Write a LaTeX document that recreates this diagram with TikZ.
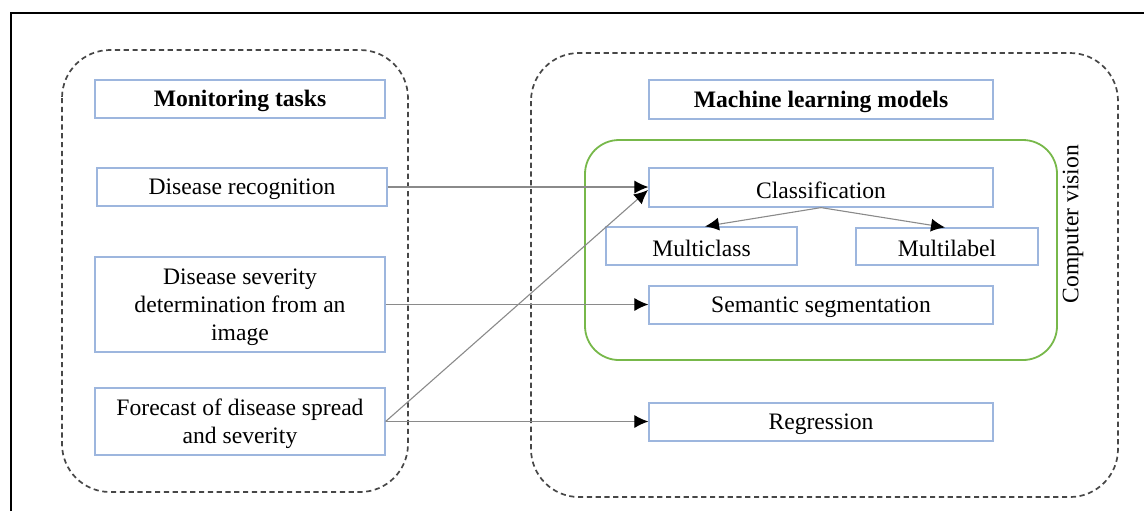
\documentclass[tikz,border=0pt]{standalone}
\usepackage{fontspec}
\setmainfont{Liberation Serif}
\usetikzlibrary{arrows.meta}
\definecolor{boxblue}{HTML}{9DB6DE}
\definecolor{cvgreen}{HTML}{77B84A}
\definecolor{linkgray}{HTML}{8A8A8A}
\begin{document}
\begin{tikzpicture}[x=0.5pt,y=-0.5pt,
  txt/.style={font=\fontsize{11.8}{14}\selectfont, align=center, yshift=-1.2pt},
  tbox/.style={draw=boxblue, line width=0.6pt, inner sep=0pt},
  group/.style={draw=black!72, dash pattern=on 2.6pt off 1.8pt, line width=0.85pt, rounded corners=24pt},
  link/.style={draw=linkgray, line width=0.55pt, -{Latex[length=7pt,width=6.5pt,black]}}
]
\useasboundingbox (0,0) rectangle (1144,511);
% frame
\draw[line width=1.1pt] (11,511) -- (11,13) -- (1144,13);

% groups
\draw[group] (62,50) rectangle (408,492);
\draw[group] (531,53) rectangle (1118,497);
\draw[cvgreen, line width=0.9pt, rounded corners=17pt] (585,140) rectangle (1057,360);
\node[font=\fontsize{11.8}{14}\selectfont, rotate=90] (cv) at (1073,224) {Computer vision};

% left column
\node[tbox, minimum width=145pt, minimum height=19pt] (mon) at (240,99) {};
\node[txt, font=\fontsize{11.8}{14}\selectfont\bfseries] at (mon) {Monitoring tasks};
\node[tbox, minimum width=145pt, minimum height=19pt] (rec) at (242,187) {};
\node[txt] at (rec) {Disease recognition};
\node[tbox, minimum width=145pt, minimum height=47.5pt] (sev) at (240,304.5) {};
\node[txt] at (sev) {Disease severity\\determination from an\\image};
\node[tbox, minimum width=145pt, minimum height=33.5pt] (fc) at (240,421.5) {};
\node[txt] at (fc) {Forecast of disease spread\\and severity};

% right column
\node[tbox, minimum width=172pt, minimum height=19.5pt] (ml) at (821,99.5) {};
\node[txt, font=\fontsize{11.8}{14}\selectfont\bfseries] at (ml) {Machine learning models};
\node[tbox, minimum width=172pt, minimum height=19.5pt] (cls) at (821,187.5) {};
\node[txt] at (cls) {Classification};
\node[tbox, minimum width=95.5pt, minimum height=19pt] (mc) at (701.5,246) {};
\node[txt] at (mc) {Multiclass};
\node[tbox, minimum width=91pt, minimum height=18.5pt] (mlb) at (947,246.5) {};
\node[txt] at (mlb) {Multilabel};
\node[tbox, minimum width=172pt, minimum height=19pt] (seg) at (821,305) {};
\node[txt] at (seg) {Semantic segmentation};
\node[tbox, minimum width=172pt, minimum height=19pt] (reg) at (821,422) {};
\node[txt] at (reg) {Regression};

% connectors
\coordinate (clsin) at (648,190);
\draw[link] (rec.east) -- (rec.east -| cls.west);
\draw[link] (fc.east) -- (clsin);
\draw[link] (sev.east) -- (sev.east -| seg.west);
\draw[link] (fc.east) -- (fc.east -| reg.west);
\draw[link] (cls.south) -- (mc.north -| 705,0);
\draw[link] (cls.south) -- (mlb.north -| 945,0);
\end{tikzpicture}
\end{document}
